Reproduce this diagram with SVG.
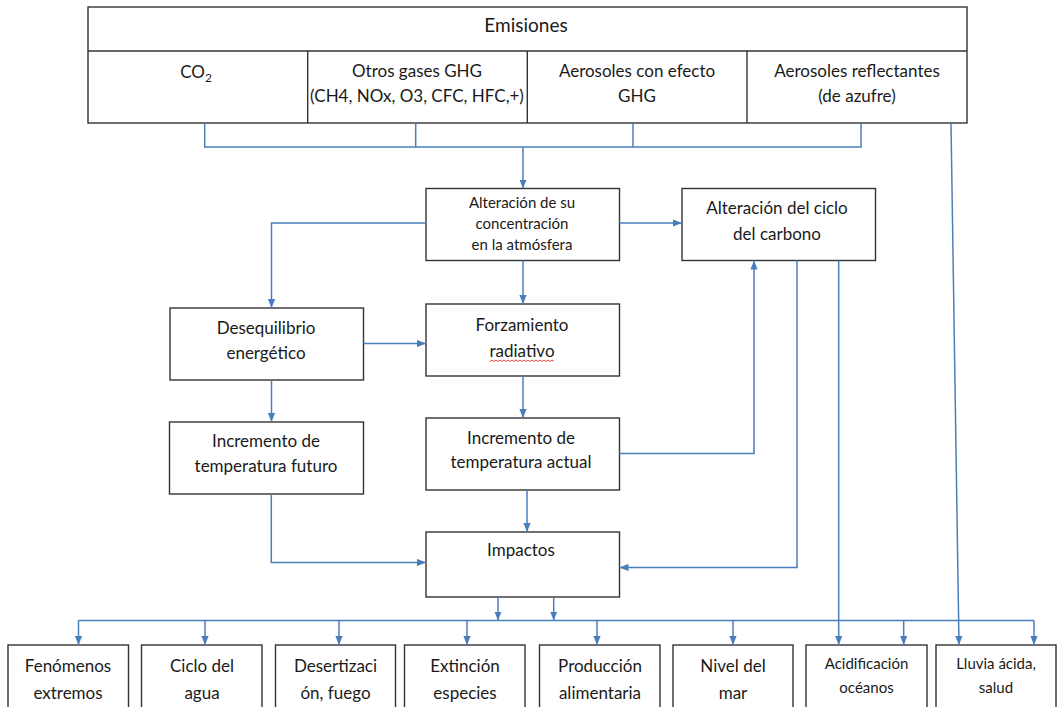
<svg xmlns="http://www.w3.org/2000/svg" width="1062" height="707" viewBox="0 0 1062 707">
<defs>
<marker id="ah" viewBox="0 0 10 8" refX="10" refY="4" markerWidth="9" markerHeight="7.5" markerUnits="userSpaceOnUse" orient="auto">
<path d="M0,0 L10,4 L0,8 z" fill="#4A7EBB"/>
</marker>
<style>
.box{fill:#fff;stroke:#333;stroke-width:1.4}
.t{font-family:Lato,"Liberation Sans",sans-serif;font-size:17px;fill:#1a1a1a;text-anchor:middle}
.s{font-size:15px}
.h{font-size:19px}
.c{fill:none;stroke:#4A7EBB;stroke-width:1.5}
.a{marker-end:url(#ah)}
</style>
</defs>
<rect width="1062" height="707" fill="#fff"/>

<g id="emisiones">
<rect class="box" x="88" y="7" width="879" height="116"/>
<line x1="88" y1="51" x2="967" y2="51" stroke="#333" stroke-width="1.4"/>
<line x1="307.7" y1="51" x2="307.7" y2="123" stroke="#333" stroke-width="1.4"/>
<line x1="527.3" y1="51" x2="527.3" y2="123" stroke="#333" stroke-width="1.4"/>
<line x1="747" y1="51" x2="747" y2="123" stroke="#333" stroke-width="1.4"/>
<text class="t h" x="526" y="32">Emisiones</text>
<text class="t" x="196" y="78">CO<tspan font-size="12" dy="4">2</tspan></text>
<text class="t" x="417" y="77">Otros gases GHG</text>
<text class="t" x="417" y="102">(CH4, NOx, O3, CFC, HFC,+)</text>
<text class="t" x="637" y="77">Aerosoles con efecto</text>
<text class="t" x="637" y="102">GHG</text>
<text class="t" x="857" y="77">Aerosoles reflectantes</text>
<text class="t" x="857" y="102">(de azufre)</text>
</g>

<g id="alteracion-concentracion">
<rect class="box" x="426" y="188.5" width="193.5" height="72"/>
<text class="t s" x="522" y="208">Alteración de su</text>
<text class="t s" x="522" y="229">concentración</text>
<text class="t s" x="522" y="250">en la atmósfera</text>
</g>

<g id="alteracion-carbono">
<rect class="box" x="682" y="188.5" width="193.5" height="72"/>
<text class="t" x="777" y="214">Alteración del ciclo</text>
<text class="t" x="777" y="240">del carbono</text>
</g>

<g id="desequilibrio">
<rect class="box" x="170" y="308" width="193.5" height="72"/>
<text class="t" x="266" y="334">Desequilibrio</text>
<text class="t" x="266" y="359">energético</text>
</g>

<g id="forzamiento">
<rect class="box" x="426" y="304" width="193.5" height="72"/>
<text class="t" x="522" y="331">Forzamiento</text>
<text class="t" x="522" y="357">radiativo</text>
<path d="M490,361.5 l2,-1.5 l2,1.5 l2,-1.5 l2,1.5 l2,-1.5 l2,1.5 l2,-1.5 l2,1.5 l2,-1.5 l2,1.5 l2,-1.5 l2,1.5 l2,-1.5 l2,1.5 l2,-1.5 l2,1.5 l2,-1.5 l2,1.5 l2,-1.5 l2,1.5 l2,-1.5 l2,1.5 l2,-1.5 l2,1.5 l2,-1.5 l2,1.5 l2,-1.5 l2,1.5 l2,-1.5 l2,1.5 l2,-1.5 l2,1.5" fill="none" stroke="#e03030" stroke-width="0.9"/>
</g>

<g id="incremento-futuro">
<rect class="box" x="169.5" y="422" width="194" height="72"/>
<text class="t" x="266" y="447">Incremento de</text>
<text class="t" x="266" y="472">temperatura futuro</text>
</g>

<g id="incremento-actual">
<rect class="box" x="426" y="418" width="193.5" height="72"/>
<text class="t" x="521" y="444">Incremento de</text>
<text class="t" x="521" y="468">temperatura actual</text>
</g>

<g id="impactos">
<rect class="box" x="426" y="532" width="193.5" height="65"/>
<text class="t" x="521" y="556">Impactos</text>
</g>

<g id="fenomenos">
<rect class="box" x="8" y="645" width="120.5" height="80"/>
<text class="t" x="68" y="672">Fenómenos</text>
<text class="t" x="68" y="699">extremos</text>
</g>
<g id="ciclo-agua">
<rect class="box" x="141.5" y="645" width="120.5" height="80"/>
<text class="t" x="202" y="672">Ciclo del</text>
<text class="t" x="202" y="699">agua</text>
</g>
<g id="desertizacion">
<rect class="box" x="275.5" y="645" width="120" height="80"/>
<text class="t" x="335.5" y="672">Desertizaci</text>
<text class="t" x="335.5" y="699">ón, fuego</text>
</g>
<g id="extincion">
<rect class="box" x="404.5" y="645" width="120.5" height="80"/>
<text class="t" x="465" y="672">Extinción</text>
<text class="t" x="465" y="699">especies</text>
</g>
<g id="produccion">
<rect class="box" x="539.5" y="645" width="120.5" height="80"/>
<text class="t" x="600" y="672">Producción</text>
<text class="t" x="600" y="699">alimentaria</text>
</g>
<g id="nivel-mar">
<rect class="box" x="673" y="645" width="120" height="80"/>
<text class="t" x="733" y="672">Nivel del</text>
<text class="t" x="733" y="699">mar</text>
</g>
<g id="acidificacion">
<rect class="box" x="806" y="645" width="121" height="80"/>
<text class="t s" x="866.5" y="669">Acidificación</text>
<text class="t s" x="866.5" y="693">océanos</text>
</g>
<g id="lluvia">
<rect class="box" x="936" y="645" width="120" height="80"/>
<text class="t s" x="996" y="669">Lluvia ácida,</text>
<text class="t s" x="996" y="693">salud</text>
</g>

<g id="connectors">
<polyline class="c" points="204.7,123 204.7,147 861,147 861,123"/>
<line class="c" x1="415.7" y1="123" x2="415.7" y2="147"/>
<line class="c" x1="633" y1="123" x2="633" y2="147"/>
<line class="c a" x1="523" y1="147" x2="523" y2="188.5"/>
<line class="c a" x1="951" y1="123" x2="959" y2="645"/>
<polyline class="c a" points="426,223 271.5,223 271.5,308"/>
<line class="c a" x1="523" y1="260.5" x2="523" y2="304"/>
<line class="c a" x1="619.5" y1="223" x2="682" y2="223"/>
<line class="c a" x1="363.5" y1="343.5" x2="426" y2="343.5"/>
<line class="c a" x1="271.5" y1="380" x2="271.5" y2="422"/>
<line class="c a" x1="523" y1="376" x2="523" y2="418"/>
<polyline class="c a" points="619.5,453.5 754,453.5 754,260.5"/>
<line class="c a" x1="527" y1="490" x2="527" y2="532"/>
<polyline class="c a" points="271.3,494 271.3,562.5 426,562.5"/>
<polyline class="c a" points="797,260.5 797,567.5 619.5,567.5"/>
<line class="c a" x1="838.7" y1="260.5" x2="838.7" y2="645"/>
<line class="c a" x1="498" y1="597" x2="498" y2="620.5"/>
<line class="c a" x1="553.7" y1="597" x2="553.7" y2="620.5"/>
<line class="c" x1="78.5" y1="620.5" x2="1034" y2="620.5"/>
<line class="c a" x1="78.5" y1="620.5" x2="78.5" y2="645"/>
<line class="c a" x1="205" y1="620.5" x2="205" y2="645"/>
<line class="c a" x1="339" y1="620.5" x2="339" y2="645"/>
<line class="c a" x1="467" y1="620.5" x2="467" y2="645"/>
<line class="c a" x1="597" y1="620.5" x2="597" y2="645"/>
<line class="c a" x1="733" y1="620.5" x2="733" y2="645"/>
<line class="c a" x1="903.7" y1="620.5" x2="903.7" y2="645"/>
<line class="c a" x1="1034" y1="620.5" x2="1034" y2="645"/>
</g>
</svg>
